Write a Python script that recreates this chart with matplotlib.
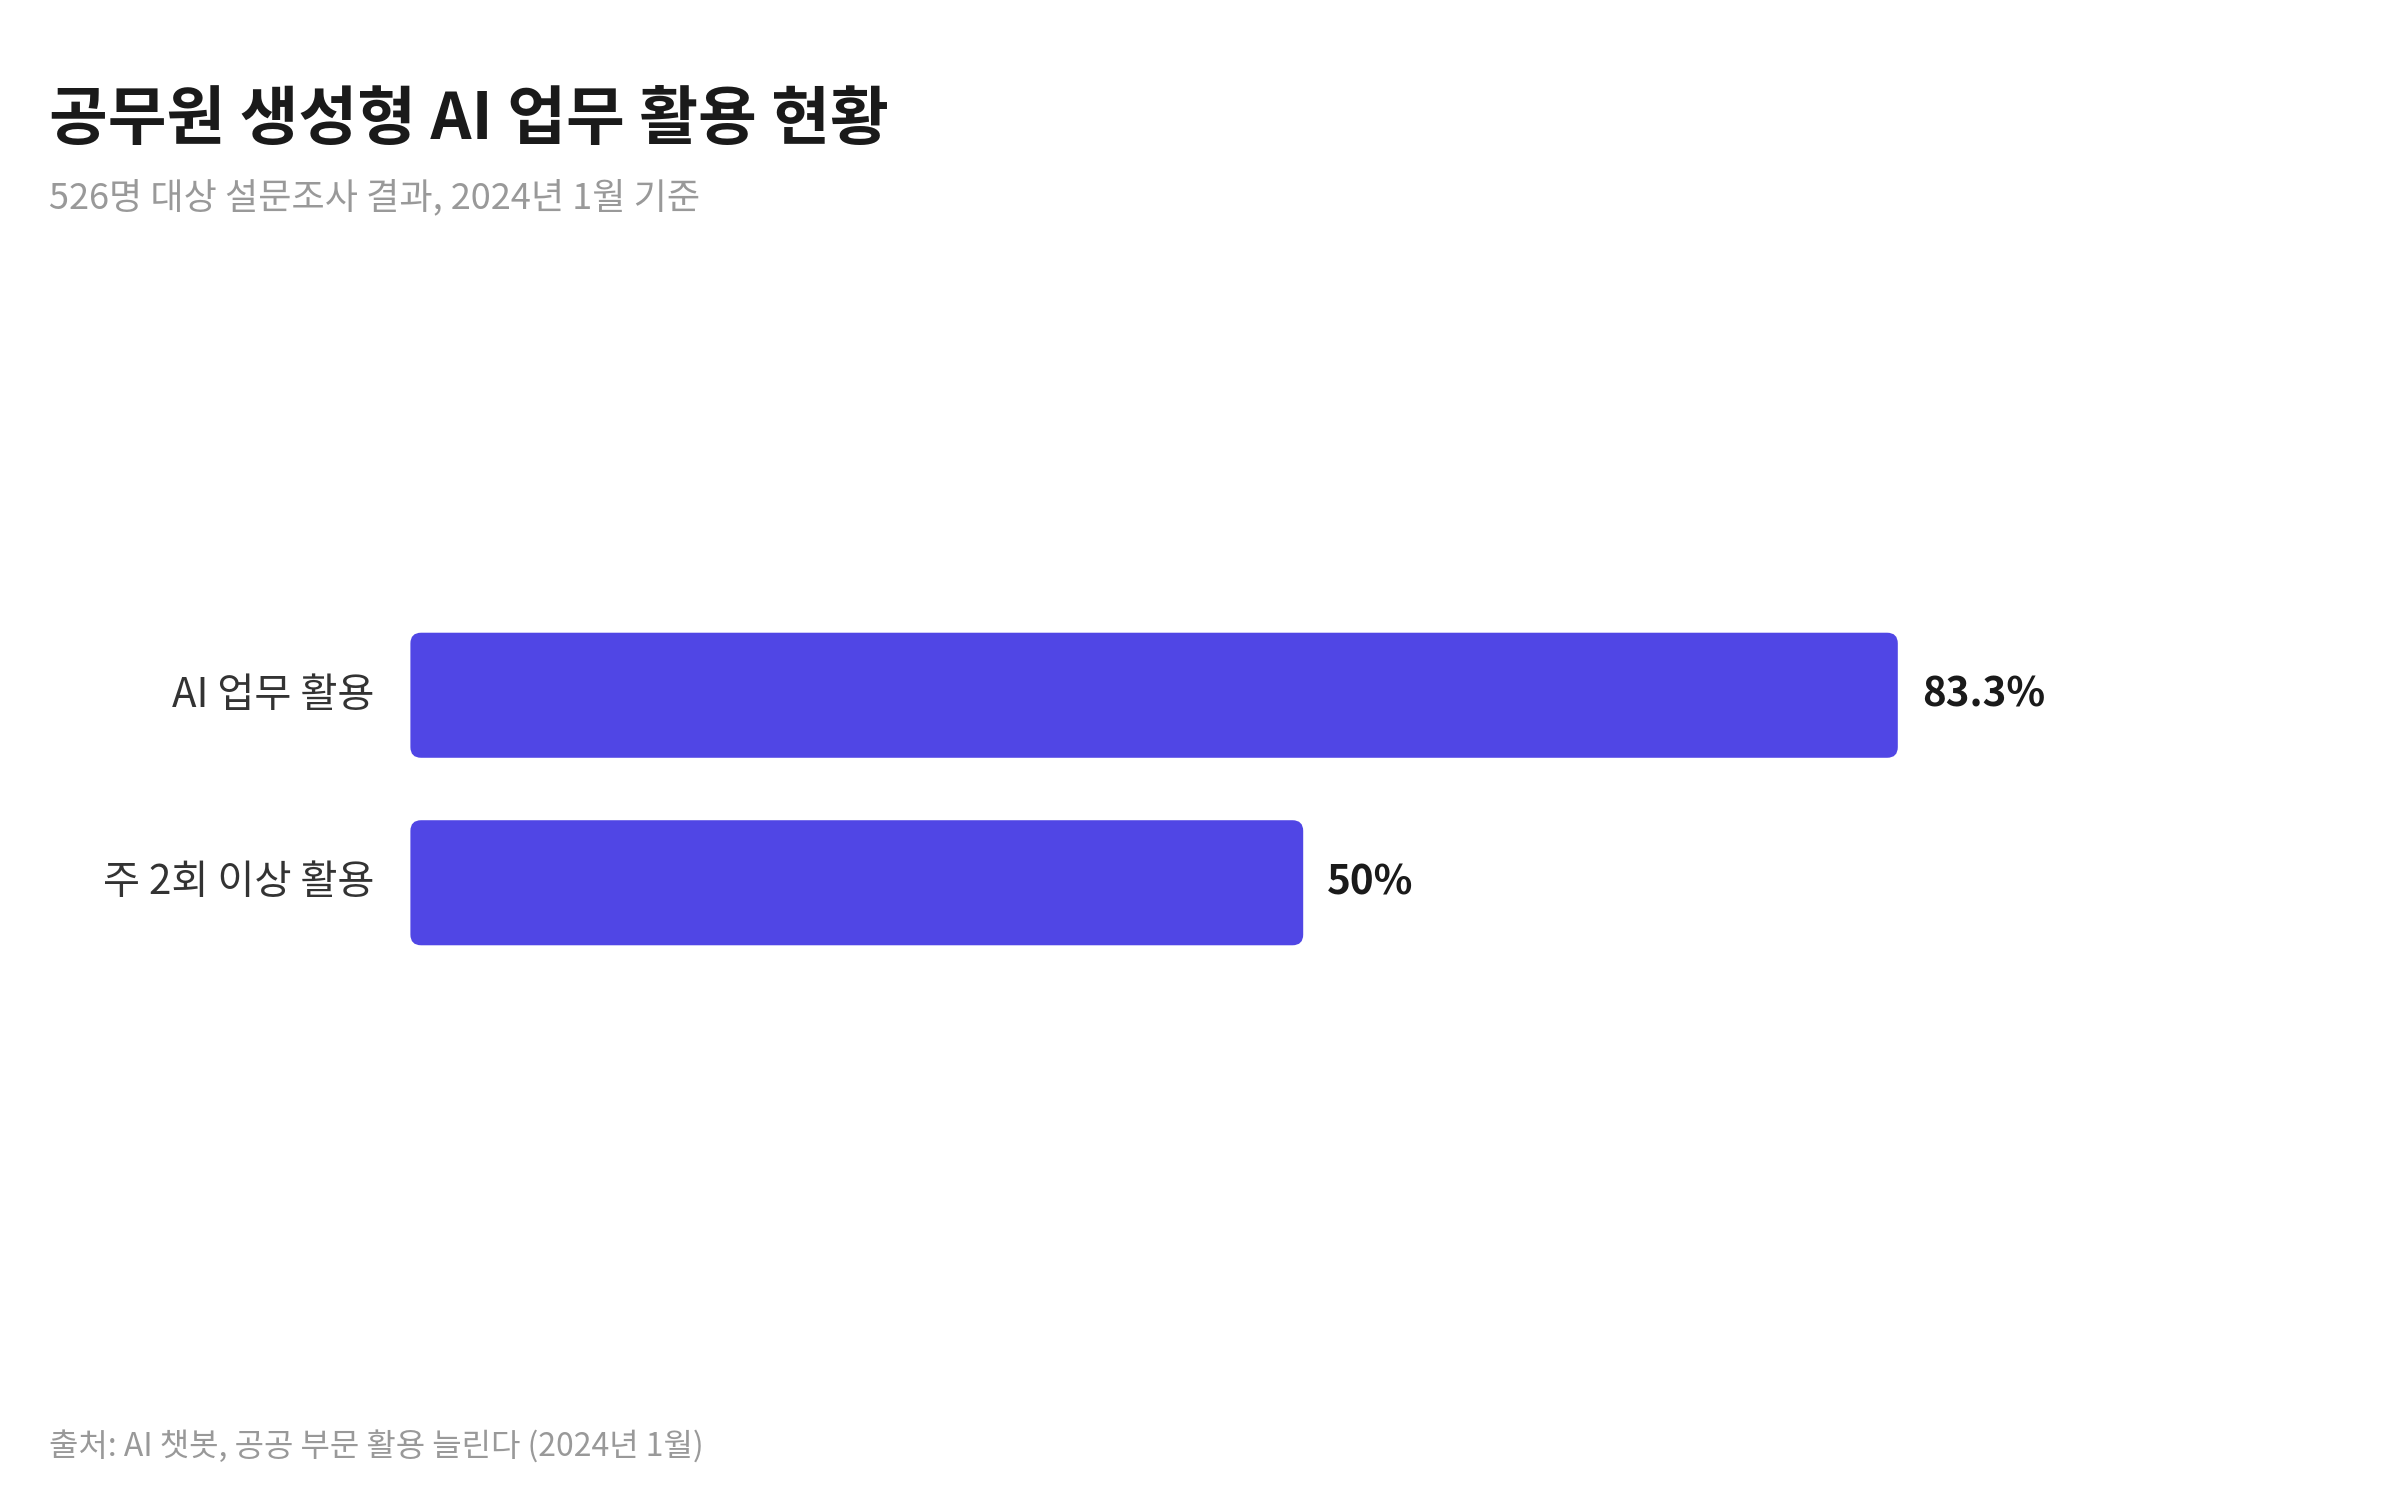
import matplotlib
matplotlib.use("Agg")
import matplotlib.pyplot as plt
from matplotlib.patches import FancyBboxPatch

plt.rcParams['font.family'] = ['Noto Sans CJK KR', 'DejaVu Sans']

categories = ["AI 업무 활용", "주 2회 이상 활용"]
values = [83.3, 50]
value_labels = ["83.3%", "50%"]

title = "공무원 생성형 AI 업무 활용 현황"
subtitle = "526명 대상 설문조사 결과, 2024년 1월 기준"
source = "출처: AI 챗봇, 공공 부문 활용 늘린다 (2024년 1월)"

color = "#5046E5"

fig = plt.figure(figsize=(24, 15), dpi=100)
ax = fig.add_axes([0.171, 0.349, 0.744, 0.250])
ax.set_xlim(0, 100)
ax.set_ylim(1.5, -0.5)
ax.axis("off")

h = 0.667
for i, (cat, v, lab) in enumerate(zip(categories, values, value_labels)):
    p = FancyBboxPatch((0, i - h / 2), v, h,
                       boxstyle="round,pad=0,rounding_size=0.6",
                       mutation_aspect=0.095, fc=color, ec="none")
    ax.add_patch(p)
    ax.annotate(cat, (0, i), xytext=(-36, 0), textcoords="offset pixels",
                ha="right", va="center", fontsize=29, color="#333333")
    ax.annotate(lab, (v, i), xytext=(24, 0), textcoords="offset pixels",
                ha="left", va="center", fontsize=29, color="#1a1a1a",
                fontweight="bold")

fig.text(0.0205, 0.92, title, fontsize=46, fontweight="bold",
         color="#1a1a1a", va="center", ha="left")
fig.text(0.0205, 0.868, subtitle, fontsize=26, color="#999999",
         va="center", ha="left")
fig.text(0.0205, 0.035, source, fontsize=23, color="#999999",
         va="center", ha="left")

fig.savefig("out.png", dpi=100, facecolor="white")
